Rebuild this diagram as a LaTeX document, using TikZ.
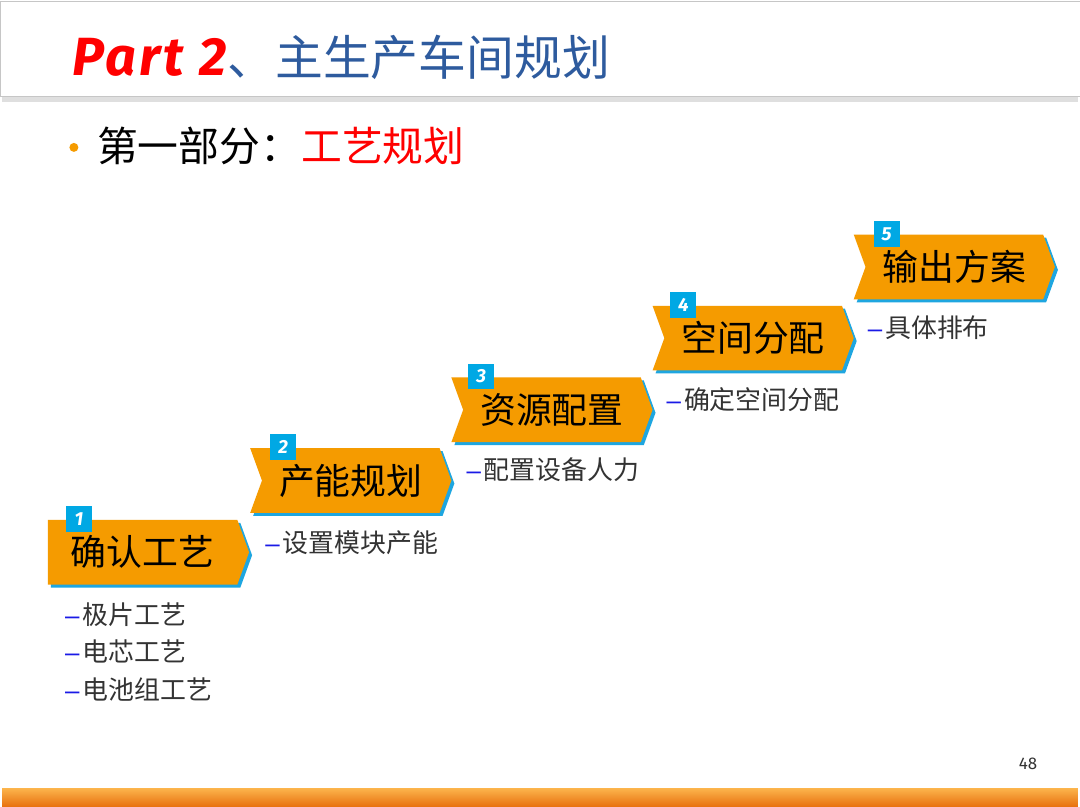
\documentclass[tikz,border=0pt]{standalone}
\usepackage{fontspec}
\setmainfont{Liberation Sans}
\newfontfamily\cjk{Noto Sans CJK SC}
\newfontfamily\partfont{Fira Sans}
\usetikzlibrary{shapes.symbols,shadows}
\definecolor{stporange}{HTML}{F59B00}
\definecolor{stpblue}{HTML}{1EA6E0}
\definecolor{numblue}{HTML}{00A8E4}
\definecolor{titleblue}{HTML}{2E5B9E}
\definecolor{dashblue}{HTML}{1A1AE6}
\definecolor{subgray}{HTML}{333333}
\definecolor{barlight}{HTML}{FBB24A}
\definecolor{bardark}{HTML}{E8700E}
\newcommand{\stpdash}{{\color{dashblue}\normalfont –}\hspace{3pt}}

\begin{document}
\begin{tikzpicture}[x=1pt,y=-1pt]
            \tikzset{
            stp box/.style={signal,signal to=east,signal from=west,signal pointer angle=140,fill=stporange,minimum width=202pt,minimum height=65pt,inner sep=0,font=\cjk\fontsize{36}{38}\selectfont,general shadow={fill=stpblue,shadow xshift=3pt,shadow yshift=-3pt}},
            stp num/.style={fill=numblue,minimum size=26pt,inner sep=0,text=white,font=\partfont\bfseries\itshape\fontsize{19}{19}\selectfont},
            stp sub/.style={anchor=west,inner sep=0,text=subgray,font=\cjk\fontsize{26}{28}\selectfont}
            }
            \fill[white] (0,0) rectangle (1080,810);
            \fill[gray!25] (0,97) rectangle (1080,102);
            \draw[gray!45,fill=white] (-2,1) rectangle (1082,97);
            \shade[top color=barlight,bottom color=bardark] (0,792) rectangle (1080,810);

            \node[anchor=base west,inner sep=0,text=red,font=\partfont\bfseries\itshape\fontsize{54}{54}\selectfont\addfontfeature{LetterSpace=6}] (pt) at (70,76) {Part 2};
            \node[anchor=base west,inner sep=0,text=titleblue,font=\cjk\fontsize{48}{48}\selectfont] (tt) at (226,76) {、主生产车间规划};
            \fill[stporange] (72,148) circle (4.5);
            \node[anchor=base west,inner sep=0,font=\cjk\fontsize{41}{41}\selectfont] (bl) at (95,162) {第一部分：\textcolor{red}{工艺规划}};

            \node[stp box,signal from=nowhere] (1) at (141,554.5) {确认工艺};
            \node[stp box] (2) at (350,482.5) {产能规划};
            \node[stp box] (3) at (552,411.5) {资源配置};
            \node[stp box] (4) at (754,339.5) {空间分配};
            \node[stp box] (5) at (956,268) {输出方案};

            \node[stp num] (1n) at (77,521) {1};
            \node[stp num] (2n) at (282,449) {2};
            \node[stp num] (3n) at (481,378) {3};
            \node[stp num] (4n) at (684,306) {4};
            \node[stp num] (5n) at (888,235) {5};

            \node[stp sub] (1a) at (63,617) {\stpdash 极片工艺};
            \node[stp sub] (1b) at (63,654) {\stpdash 电芯工艺};
            \node[stp sub] (1c) at (63,692) {\stpdash 电池组工艺};
            \node[stp sub] (2a) at (264,545) {\stpdash 设置模块产能};
            \node[stp sub] (3a) at (466,472) {\stpdash 配置设备人力};
            \node[stp sub] (4a) at (667,401) {\stpdash 确定空间分配};
            \node[stp sub] (5a) at (869,329) {\stpdash 具体排布};

            \node[inner sep=0,text=black!80,font=\partfont\fontsize{17}{17}\selectfont] (pg) at (1030,767) {48};
\end{tikzpicture}
\end{document}
